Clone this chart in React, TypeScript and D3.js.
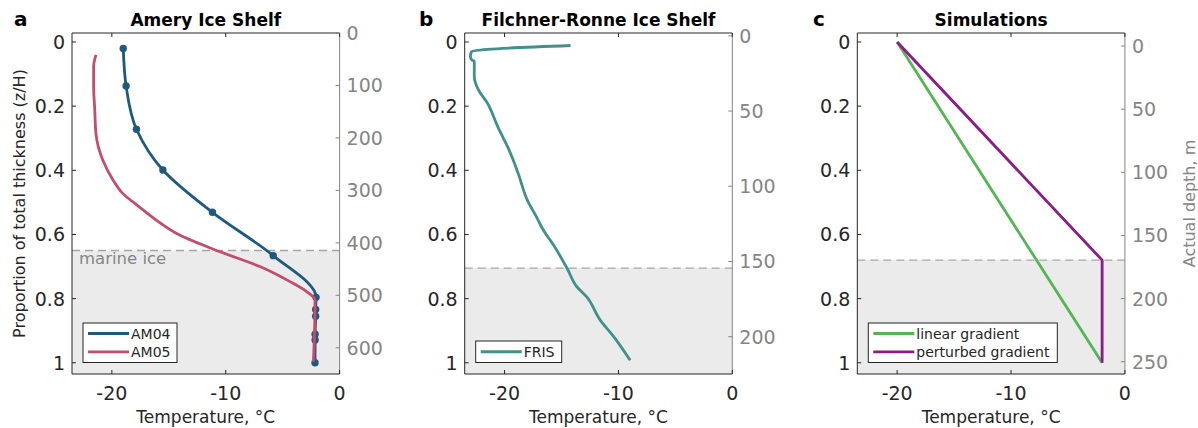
import React, { useEffect, useRef } from 'react';
import * as d3 from 'd3';

// AM04 borehole (markers at measurement depths)
const am04Temp = [-19.0, -18.75, -17.84, -15.52, -11.17, -5.83, -2.07, -2.1, -2.1, -2.15, -2.15, -2.16];
const am04Z = [0.02, 0.137, 0.272, 0.399, 0.531, 0.666, 0.796, 0.834, 0.855, 0.911, 0.929, 1.0];

// AM05 borehole
const am05Temp = [-21.4, -21.6, -21.6, -21.5, -21.4, -20.8, -19.9, -19.05, -17.6, -16.3, -14.05, -10.5, -7.0, -4.36, -2.9, -2.16, -2.2, -2.3];
const am05Z = [0.04, 0.077, 0.139, 0.212, 0.285, 0.368, 0.43, 0.472, 0.514, 0.55, 0.602, 0.654, 0.7, 0.747, 0.778, 0.804, 0.9, 0.997];

// FRIS borehole
const frisTemp = [-14.2, -21.5, -22.9, -23.0, -22.86, -22.66, -22.66, -22.28, -21.5, -20.6, -19.6, -18.8, -18.0, -17.2, -16.6, -15.7, -14.5, -13.65, -12.8, -11.6, -10.4, -8.97];
const frisZ = [0.011, 0.023, 0.03, 0.046, 0.056, 0.061, 0.108, 0.15, 0.191, 0.264, 0.337, 0.41, 0.493, 0.545, 0.586, 0.633, 0.706, 0.763, 0.794, 0.867, 0.919, 0.992];

// simulations
const linearTemp = [-20, -2];
const linearZ = [0, 1];
const perturbedTemp = [-20, -2, -2];
const perturbedZ = [0, 0.68, 1];

const panelLetters = ['a', 'b', 'c'];
const panelTitles = ['Amery Ice Shelf', 'Filchner-Ronne Ice Shelf', 'Simulations'];
const marineIceZ = [0.65, 0.705, 0.68];
const tempTicks = [-20, -10, 0];
const zTicks = [0, 0.2, 0.4, 0.6, 0.8, 1];
const depthTicks = [
  [0, 100, 200, 300, 400, 500, 600],
  [0, 50, 100, 150, 200],
  [0, 50, 100, 150, 200, 250],
];
const depthLimits = [[0, 650], [-1.9, 224.8], [-10.3, 259.7]];

const C_AM04 = '#1e5a7c';
const C_AM05 = '#c24d6d';
const C_FRIS = '#3f918a';
const C_LIN = '#55b453';
const C_PERT = '#8c1b8a';
const DARK = '#262626';
const GRAY = '#858585';
const FONT = 'DejaVu Sans';

const W = 1198;
const H = 428;
const panelLeft = [72, 464.7, 857.3];
const letterX = [14, 419, 813];
const panelW = 267.6;
const top = 33;
const bottom = 374;

const App = () => {
  const ref = useRef<SVGSVGElement>(null);

  useEffect(() => {
    const svg = d3.select(ref.current);
    svg.selectAll('*').remove();

    const y = d3.scaleLinear().domain([-0.028, 1.035]).range([top, bottom]);

    const series = [
      [
        { t: am04Temp, z: am04Z, color: C_AM04, name: 'AM04', markers: true, curve: d3.curveMonotoneY },
        { t: am05Temp, z: am05Z, color: C_AM05, name: 'AM05', markers: false, curve: d3.curveMonotoneY },
      ],
      [{ t: frisTemp, z: frisZ, color: C_FRIS, name: 'FRIS', markers: false, curve: d3.curveMonotoneY }],
      [
        { t: linearTemp, z: linearZ, color: C_LIN, name: 'linear gradient', markers: false, curve: d3.curveLinear },
        { t: perturbedTemp, z: perturbedZ, color: C_PERT, name: 'perturbed gradient', markers: false, curve: d3.curveLinear },
      ],
    ];
    const legendW = [94, 86, 189];

    panelLeft.forEach((left, i) => {
      const right = left + panelW;
      const x = d3.scaleLinear().domain([-23.5, 0]).range([left, right]);
      const yd = d3.scaleLinear().domain(depthLimits[i]).range([top, bottom]);
      const g = svg.append('g');

      // marine ice shading
      const yMar = y(marineIceZ[i]);
      g.append('rect')
        .attr('x', left).attr('y', yMar)
        .attr('width', panelW).attr('height', bottom - yMar)
        .attr('fill', '#ebebeb');
      g.append('line')
        .attr('x1', left).attr('x2', right)
        .attr('y1', yMar).attr('y2', yMar)
        .attr('stroke', '#a6a6a6').attr('stroke-width', 1.3)
        .attr('stroke-dasharray', '8,5');
      if (i === 0) {
        g.append('text')
          .attr('x', left + 7).attr('y', yMar + 13.5)
          .attr('font-family', FONT).attr('font-size', 16.5)
          .attr('fill', GRAY).text('marine ice');
      }

      // data lines
      series[i].forEach((s) => {
        const pts = s.t.map((t, k) => [t, s.z[k]] as [number, number]);
        const line = d3.line<[number, number]>()
          .x((d) => x(d[0])).y((d) => y(d[1])).curve(s.curve);
        g.append('path')
          .attr('d', line(pts))
          .attr('fill', 'none').attr('stroke', s.color)
          .attr('stroke-width', 2.8).attr('stroke-linejoin', 'round');
        if (s.markers) {
          g.selectAll(null).data(pts).enter().append('circle')
            .attr('cx', (d) => x(d[0])).attr('cy', (d) => y(d[1]))
            .attr('r', 3.7).attr('fill', s.color);
        }
      });

      // box
      g.append('path')
        .attr('d', `M${right},${top}H${left}V${bottom}H${right}`)
        .attr('fill', 'none').attr('stroke', DARK).attr('stroke-width', 1);
      g.append('line')
        .attr('x1', right).attr('x2', right).attr('y1', top).attr('y2', bottom)
        .attr('stroke', GRAY).attr('stroke-width', 1);

      // x ticks (bottom and top, inside)
      tempTicks.forEach((v) => {
        const px = x(v);
        g.append('line').attr('x1', px).attr('x2', px).attr('y1', bottom).attr('y2', bottom - 4)
          .attr('stroke', DARK);
        g.append('line').attr('x1', px).attr('x2', px).attr('y1', top).attr('y2', top + 4)
          .attr('stroke', DARK);
        g.append('text')
          .attr('x', px).attr('y', 400)
          .attr('text-anchor', 'middle')
          .attr('font-family', FONT).attr('font-size', 19)
          .attr('fill', DARK).text(String(v));
      });

      // left z/H ticks
      zTicks.forEach((v) => {
        const py = y(v);
        g.append('line').attr('x1', left).attr('x2', left + 4).attr('y1', py).attr('y2', py)
          .attr('stroke', DARK);
        g.append('text')
          .attr('x', left - 7).attr('y', py)
          .attr('text-anchor', 'end').attr('dominant-baseline', 'central')
          .attr('font-family', FONT).attr('font-size', 19)
          .attr('fill', DARK).text(String(v));
      });

      // right depth ticks
      depthTicks[i].forEach((v) => {
        const py = yd(v);
        g.append('line').attr('x1', right).attr('x2', right - 4).attr('y1', py).attr('y2', py)
          .attr('stroke', GRAY);
        g.append('text')
          .attr('x', right + 7).attr('y', py)
          .attr('dominant-baseline', 'central')
          .attr('font-family', FONT).attr('font-size', 19)
          .attr('fill', GRAY).text(String(v));
      });

      // x label
      g.append('text')
        .attr('x', (left + right) / 2).attr('y', 423)
        .attr('text-anchor', 'middle')
        .attr('font-family', FONT).attr('font-size', 17)
        .attr('fill', DARK).text('Temperature, °C');

      // title and letter
      g.append('text')
        .attr('x', (left + right) / 2).attr('y', 26)
        .attr('text-anchor', 'middle')
        .attr('font-family', FONT).attr('font-size', 17).attr('font-weight', 'bold')
        .attr('fill', '#000').text(panelTitles[i]);
      g.append('text')
        .attr('x', letterX[i]).attr('y', 26)
        .attr('font-family', FONT).attr('font-size', 20).attr('font-weight', 'bold')
        .attr('fill', '#000').text(panelLetters[i]);

      // legend
      const n = series[i].length;
      const lx = left + 11;
      const lh = n === 1 ? 21.5 : 39.5;
      const ly = 362.5 - lh;
      g.append('rect')
        .attr('x', lx).attr('y', ly).attr('width', legendW[i]).attr('height', lh)
        .attr('fill', '#fff').attr('stroke', DARK).attr('stroke-width', 1);
      series[i].forEach((s, k) => {
        const cy = ly + (n === 1 ? lh / 2 : 10.5 + k * 18.3);
        g.append('line')
          .attr('x1', lx + 5).attr('x2', lx + 46).attr('y1', cy).attr('y2', cy)
          .attr('stroke', s.color).attr('stroke-width', 2.8);
        g.append('text')
          .attr('x', lx + 48).attr('y', cy)
          .attr('dominant-baseline', 'central')
          .attr('font-family', FONT).attr('font-size', 14)
          .attr('fill', DARK).text(s.name);
      });
    });

    // axis labels
    svg.append('text')
      .attr('transform', `translate(25,${(top + bottom) / 2}) rotate(-90)`)
      .attr('text-anchor', 'middle')
      .attr('font-family', FONT).attr('font-size', 16)
      .attr('fill', DARK).text('Proportion of total thickness (z/H)');
    svg.append('text')
      .attr('transform', `translate(1195,${(top + bottom) / 2}) rotate(-90)`)
      .attr('text-anchor', 'middle')
      .attr('font-family', FONT).attr('font-size', 16)
      .attr('fill', GRAY).text('Actual depth, m');
  }, []);

  return (
    <svg
      ref={ref}
      width={W}
      height={H}
      style={{ position: 'absolute', left: 0, top: 0, background: '#fff' }}
    />
  );
};

export default App;
